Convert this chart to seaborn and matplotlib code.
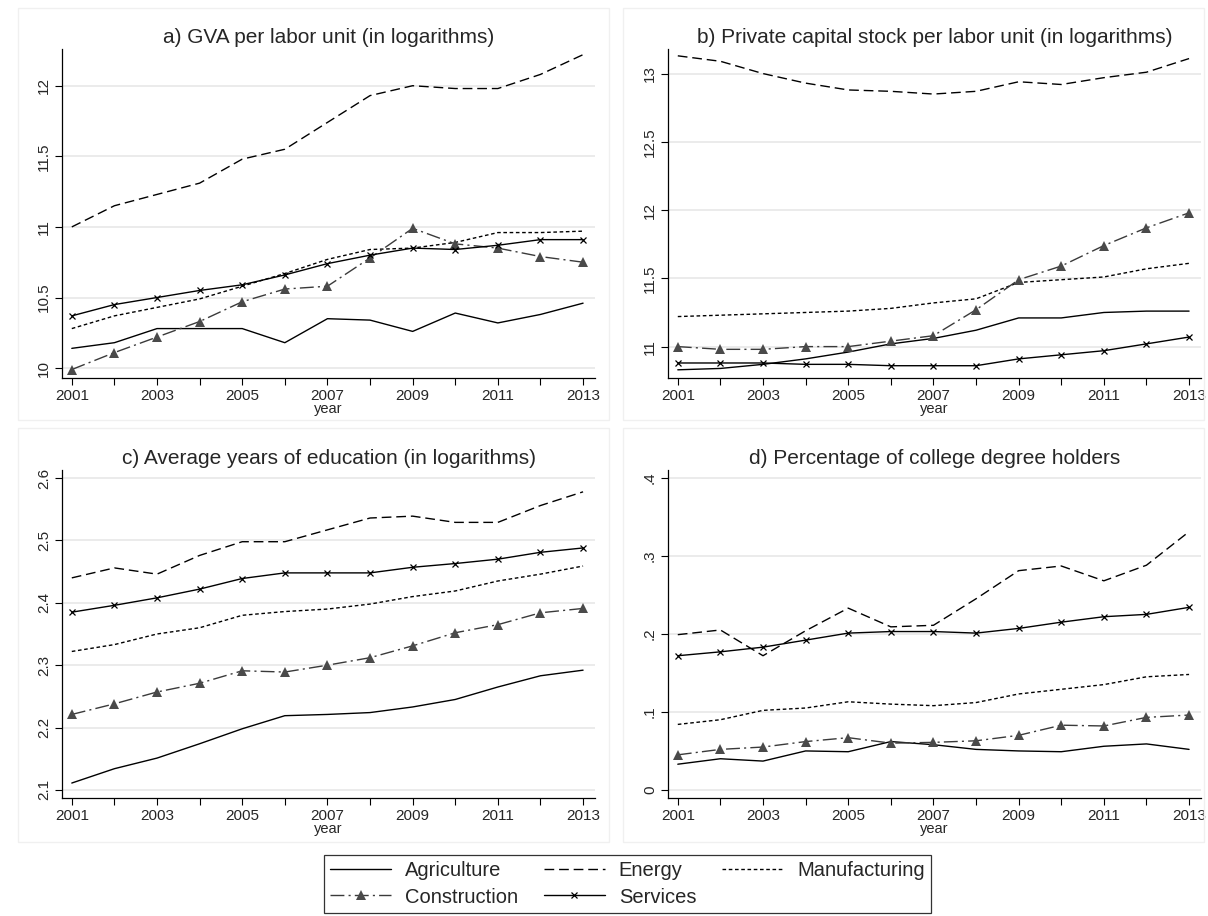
import matplotlib
matplotlib.use("Agg")
import matplotlib.pyplot as plt
import numpy as np
import pandas as pd
import seaborn as sns
from matplotlib.patches import Rectangle

# data
years = list(range(2001, 2014))
sectors = ["Agriculture", "Energy", "Manufacturing", "Construction", "Services"]

gva = {
    "Agriculture":   [10.14, 10.18, 10.28, 10.28, 10.28, 10.18, 10.35, 10.34, 10.26, 10.39, 10.32, 10.38, 10.46],
    "Energy":        [11.00, 11.15, 11.23, 11.31, 11.48, 11.55, 11.74, 11.93, 12.00, 11.98, 11.98, 12.08, 12.22],
    "Manufacturing": [10.28, 10.37, 10.43, 10.49, 10.58, 10.67, 10.77, 10.84, 10.85, 10.89, 10.96, 10.96, 10.97],
    "Construction":  [9.99, 10.11, 10.22, 10.33, 10.47, 10.56, 10.58, 10.78, 10.99, 10.88, 10.85, 10.79, 10.75],
    "Services":      [10.37, 10.45, 10.50, 10.55, 10.59, 10.66, 10.74, 10.80, 10.85, 10.84, 10.87, 10.91, 10.91],
}
capital = {
    "Agriculture":   [10.83, 10.84, 10.87, 10.91, 10.96, 11.02, 11.06, 11.12, 11.21, 11.21, 11.25, 11.26, 11.26],
    "Energy":        [13.13, 13.09, 13.00, 12.93, 12.88, 12.87, 12.85, 12.87, 12.94, 12.92, 12.97, 13.01, 13.11],
    "Manufacturing": [11.22, 11.23, 11.24, 11.25, 11.26, 11.28, 11.32, 11.35, 11.47, 11.49, 11.51, 11.57, 11.61],
    "Construction":  [11.00, 10.98, 10.98, 11.00, 11.00, 11.04, 11.08, 11.27, 11.49, 11.59, 11.74, 11.87, 11.98],
    "Services":      [10.88, 10.88, 10.88, 10.87, 10.87, 10.86, 10.86, 10.86, 10.91, 10.94, 10.97, 11.02, 11.07],
}
education = {
    "Agriculture":   [2.111, 2.134, 2.151, 2.174, 2.198, 2.219, 2.221, 2.224, 2.233, 2.245, 2.265, 2.283, 2.292],
    "Energy":        [2.440, 2.456, 2.446, 2.476, 2.498, 2.498, 2.517, 2.536, 2.539, 2.529, 2.529, 2.556, 2.578],
    "Manufacturing": [2.322, 2.333, 2.350, 2.360, 2.380, 2.386, 2.390, 2.398, 2.410, 2.419, 2.435, 2.446, 2.459],
    "Construction":  [2.221, 2.238, 2.257, 2.271, 2.291, 2.289, 2.300, 2.312, 2.331, 2.352, 2.365, 2.384, 2.391],
    "Services":      [2.385, 2.396, 2.408, 2.422, 2.439, 2.448, 2.448, 2.448, 2.457, 2.463, 2.470, 2.481, 2.488],
}
college = {
    "Agriculture":   [0.033, 0.040, 0.037, 0.050, 0.049, 0.062, 0.058, 0.052, 0.050, 0.049, 0.056, 0.059, 0.052],
    "Energy":        [0.199, 0.205, 0.172, 0.204, 0.233, 0.209, 0.211, 0.245, 0.281, 0.287, 0.268, 0.288, 0.331],
    "Manufacturing": [0.084, 0.090, 0.102, 0.105, 0.113, 0.110, 0.108, 0.112, 0.123, 0.129, 0.135, 0.145, 0.148],
    "Construction":  [0.045, 0.052, 0.055, 0.062, 0.067, 0.060, 0.061, 0.063, 0.070, 0.083, 0.082, 0.093, 0.096],
    "Services":      [0.172, 0.177, 0.183, 0.192, 0.201, 0.203, 0.203, 0.201, 0.207, 0.215, 0.222, 0.225, 0.234],
}

titles = ["a) GVA per labor unit (in logarithms)",
          "b) Private capital stock per labor unit (in logarithms)",
          "c) Average years of education (in logarithms)",
          "d) Percentage of college degree holders"]
ytick_vals = [[10, 10.5, 11, 11.5, 12],
              [11, 11.5, 12, 12.5, 13],
              [2.1, 2.2, 2.3, 2.4, 2.5, 2.6],
              [0, 0.1, 0.2, 0.3, 0.4]]
ytick_labels = [["10", "10.5", "11", "11.5", "12"],
                ["11", "11.5", "12", "12.5", "13"],
                ["2.1", "2.2", "2.3", "2.4", "2.5", "2.6"],
                ["0", ".1", ".2", ".3", ".4"]]
xtick_labels = [str(y) if y % 2 == 1 else "" for y in years]

# line styles per sector
styles = {
    "Agriculture":   dict(color="black", dashes=None, marker=None),
    "Energy":        dict(color="black", dashes=(7, 3.5), marker=None),
    "Manufacturing": dict(color="black", dashes=(2.6, 1.9), marker=None),
    "Construction":  dict(color="#3a3a3a", dashes=(10, 3, 1.5, 3), marker="^"),
    "Services":      dict(color="black", dashes=None, marker="x"),
}

sns.set_style("white")
plt.rcParams["font.family"] = ["Liberation Sans", "DejaVu Sans"]

W, H = 1208, 916
fig = plt.figure(figsize=(W / 100, H / 100), dpi=100)

# axes boxes in pixels: left, top, right, bottom
boxes = [(62, 49, 595, 378), (668, 49, 1201, 378),
         (62, 470, 595, 798), (668, 470, 1201, 798)]
ylims = [(9.93, 12.26), (10.77, 13.18), (2.087, 2.613), (-0.0103, 0.41)]
frames = [(18, 8, 609, 420), (623, 8, 1204, 420),
          (18, 428, 609, 842), (623, 428, 1204, 842)]

for (l, t, r, b) in frames:
    fig.patches.append(Rectangle((l / W, 1 - b / H), (r - l) / W, (b - t) / H,
                                 transform=fig.transFigure, fill=False,
                                 edgecolor="#f0f0f0", linewidth=1))

datasets = [gva, capital, education, college]
handles = {}
for i, data in enumerate(datasets):
    l, t, r, b = boxes[i]
    ax = fig.add_axes([l / W, 1 - b / H, (r - l) / W, (b - t) / H])
    for s in sectors:
        st = styles[s]
        df = pd.DataFrame({"year": years, "value": data[s]})
        sns.lineplot(data=df, x="year", y="value", ax=ax, color=st["color"],
                     linewidth=1.0, marker=st["marker"],
                     markersize=7 if st["marker"] == "^" else 5,
                     markeredgewidth=0.9 if st["marker"] == "x" else 0,
                     markerfacecolor="#4a4a4a" if st["marker"] == "^" else "black",
                     markeredgecolor="black", label=s)
        line = ax.get_lines()[-1]
        if st["dashes"] is not None:
            line.set_dashes(st["dashes"])
        handles[s] = line
    if ax.get_legend():
        ax.get_legend().remove()
    ax.set_xlim(2000.77, 2013.28)
    ax.set_ylim(*ylims[i])
    ax.set_xticks(years)
    ax.set_xticklabels(xtick_labels, fontsize=11)
    ax.set_yticks(ytick_vals[i])
    ax.set_yticklabels(ytick_labels[i], fontsize=11, rotation=90, va="center")
    ax.tick_params(axis="both", direction="out", length=5, width=0.8,
                   color="black", pad=3, left=True, bottom=True)
    ax.yaxis.grid(True, color="#e8e8e8", linewidth=1.2)
    ax.set_axisbelow(True)
    for side in ["top", "right"]:
        ax.spines[side].set_visible(False)
    for side in ["left", "bottom"]:
        ax.spines[side].set_color("black")
        ax.spines[side].set_linewidth(0.9)
    ax.set_xlabel("year", fontsize=10.5, labelpad=-1)
    ax.set_ylabel("")
    ax.set_title(titles[i], fontsize=15, pad=4)

order = ["Agriculture", "Construction", "Energy", "Services", "Manufacturing"]
leg = fig.legend([handles[s] for s in order], order, loc="center",
                 bbox_to_anchor=(627.5 / W, 1 - 884 / H), ncol=3, fontsize=14.5,
                 frameon=True, fancybox=False, handlelength=3.0,
                 handletextpad=0.7, columnspacing=1.3, labelspacing=0.35,
                 borderpad=0.3)
leg.get_frame().set_edgecolor("black")
leg.get_frame().set_linewidth(0.9)

fig.savefig("out.png", dpi=100, facecolor="white")
